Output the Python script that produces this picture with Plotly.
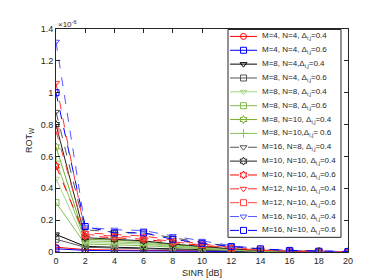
import plotly.graph_objects as go

sinr = [0, 2, 4, 6, 8, 10, 12, 14, 16, 18, 20]
x_ticks = [0, 2, 4, 6, 8, 10, 12, 14, 16, 18, 20]
y_ticks = [0, 0.2, 0.4, 0.6, 0.8, 1.0, 1.2, 1.4]
y_tick_labels = ["0", "0.2", "0.4", "0.6", "0.8", "1", "1.2", "1.4"]

names = [
    "M=4, N=4, Δ<sub>i,j</sub>=0.4",
    "M=4, N=4, Δ<sub>i,j</sub>=0.6",
    "M=8, N=4,Δ<sub>i,j</sub>=0.4",
    "M=8, N=4, Δ<sub>i,j</sub>=0.6",
    "M=8, N=8, Δ<sub>i,j</sub>=0.4",
    "M=8, N=8, Δ<sub>i,j</sub>=0.6",
    "M=8, N=10, Δ<sub>i,j</sub>=0.4",
    "M=8, N=10,Δ<sub>i,j</sub>= 0.6",
    "M=16, N=8, Δ<sub>i,j</sub>=0.4",
    "M=10, N=10, Δ<sub>i,j</sub>=0.4",
    "M=10, N=10, Δ<sub>i,j</sub>=0.6",
    "M=12, N=10, Δ<sub>i,j</sub>=0.4",
    "M=12, N=10, Δ<sub>i,j</sub>=0.6",
    "M=16, N=10, Δ<sub>i,j</sub>=0.4",
    "M=16, N=10, Δ<sub>i,j</sub>=0.6",
]

# ROT_W values (x 1e-6)
rot_m4n4_04 = [0.03, 0.015, 0.012, 0.010, 0.008, 0.005, 0.003, 0.002, 0.001, 0.0005, 0.0003]
rot_m4n4_06 = [0.02, 0.010, 0.008, 0.006, 0.005, 0.003, 0.002, 0.001, 0.0007, 0.0004, 0.0002]
rot_m8n4_04 = [0.11, 0.035, 0.030, 0.025, 0.020, 0.012, 0.007, 0.004, 0.002, 0.001, 0.0005]
rot_m8n4_06 = [0.08, 0.030, 0.025, 0.020, 0.015, 0.010, 0.006, 0.003, 0.002, 0.001, 0.0005]
rot_m8n8_04 = [0.46, 0.060, 0.055, 0.050, 0.035, 0.022, 0.012, 0.006, 0.003, 0.001, 0.001]
rot_m8n8_06 = [0.31, 0.050, 0.045, 0.040, 0.030, 0.018, 0.010, 0.005, 0.002, 0.001, 0.0005]
rot_m8n10_04 = [0.66, 0.080, 0.075, 0.065, 0.045, 0.030, 0.018, 0.008, 0.004, 0.002, 0.001]
rot_m8n10_06 = [0.57, 0.070, 0.065, 0.055, 0.040, 0.025, 0.015, 0.007, 0.003, 0.002, 0.001]
rot_m16n8_04 = [0.88, 0.140, 0.125, 0.120, 0.090, 0.060, 0.035, 0.018, 0.009, 0.004, 0.002]
rot_m10n10_04 = [0.80, 0.090, 0.080, 0.070, 0.050, 0.035, 0.020, 0.010, 0.005, 0.002, 0.001]
rot_m10n10_06 = [0.54, 0.100, 0.090, 0.080, 0.060, 0.040, 0.022, 0.010, 0.005, 0.003, 0.001]
rot_m12n10_04 = [1.06, 0.120, 0.110, 0.100, 0.075, 0.050, 0.030, 0.015, 0.008, 0.004, 0.002]
rot_m12n10_06 = [0.76, 0.110, 0.100, 0.090, 0.065, 0.045, 0.025, 0.012, 0.006, 0.003, 0.002]
rot_m16n10_04 = [1.32, 0.155, 0.140, 0.135, 0.100, 0.070, 0.040, 0.020, 0.010, 0.005, 0.003]
rot_m16n10_06 = [1.00, 0.160, 0.120, 0.120, 0.080, 0.055, 0.035, 0.020, 0.010, 0.005, 0.003]

series = [rot_m4n4_04, rot_m4n4_06, rot_m8n4_04, rot_m8n4_06, rot_m8n8_04,
          rot_m8n8_06, rot_m8n10_04, rot_m8n10_06, rot_m16n8_04, rot_m10n10_04,
          rot_m10n10_06, rot_m12n10_04, rot_m12n10_06, rot_m16n10_04, rot_m16n10_06]

styles = [
    ("#ff0000", "solid", "circle-open"),
    ("#0000ff", "solid", "square-open"),
    ("#000000", "solid", "triangle-down-open"),
    ("#555555", "solid", "square-open"),
    ("#a8d48a", "solid", "triangle-down-open"),
    ("#86bb4f", "solid", "square-open"),
    ("#77ac30", "solid", "hexagram-open"),
    ("#8cc060", "solid", "cross-thin-open"),
    ("#555555", "dash", "triangle-down-open"),
    ("#222222", "solid", "hexagram-open"),
    ("#ff0000", "dash", "hexagram-open"),
    ("#ff3333", "dash", "triangle-down-open"),
    ("#ff4444", "dash", "square-open"),
    ("#5555ff", "dash", "triangle-down-open"),
    ("#0000ff", "dash", "square-open"),
]

TXT = "#262626"
fig = go.Figure()
for name, ys, (col, dash, sym) in zip(names, series, styles):
    fig.add_trace(go.Scatter(
        x=sinr, y=ys, name=name, mode="lines+markers", showlegend=False,
        line=dict(color=col, width=1, dash=dash),
        marker=dict(symbol=sym, size=6, color=col, line=dict(color=col, width=1)),
    ))

# ---- hand-made legend on a helper subplot (pixel-like units) ----
# plot area: x 48..340 px, y 21..249 px
L_W, L_H = 115, 214
fig.add_trace(go.Scatter(
    x=[1, L_W - 1, L_W - 1, 1, 1], y=[0.5, 0.5, L_H - 1, L_H - 1, 0.5],
    mode="lines", fill="toself", fillcolor="white",
    line=dict(color=TXT, width=1), showlegend=False, hoverinfo="skip",
    xaxis="x2", yaxis="y2"))
n = len(names)
step = (L_H - 1.5) / n
for i, (name, (col, dash, sym)) in enumerate(zip(names, styles)):
    yc = 0.5 + (i + 0.5) * step
    fig.add_trace(go.Scatter(
        x=[3, 30], y=[yc, yc], mode="lines", showlegend=False, hoverinfo="skip",
        line=dict(color=col, width=1, dash=dash), xaxis="x2", yaxis="y2"))
    fig.add_trace(go.Scatter(
        x=[16.5], y=[yc], mode="markers", showlegend=False, hoverinfo="skip",
        marker=dict(symbol=sym, size=6, color=col, line=dict(color=col, width=1)),
        xaxis="x2", yaxis="y2"))
    fig.add_annotation(text=name, x=33, y=yc, xref="x2", yref="y2",
                       xanchor="left", yanchor="middle", showarrow=False,
                       font=dict(size=8, color=TXT))

axis_common = dict(
    showline=True, linecolor=TXT, linewidth=1, mirror="ticks",
    ticks="inside", ticklen=4, tickcolor=TXT, showgrid=False, zeroline=False,
    tickfont=dict(size=9, color=TXT),
)

fig.update_layout(
    width=374, height=280,
    margin=dict(l=48, r=34, t=21, b=31),
    paper_bgcolor="white", plot_bgcolor="white",
    font=dict(family="Liberation Sans, Arial, sans-serif", color=TXT),
    xaxis=dict(range=[0, 20], tickvals=x_ticks, domain=[0, 1],
               title=dict(text="SINR [dB]", font=dict(size=9), standoff=4), **axis_common),
    yaxis=dict(range=[0, 1.4], tickvals=y_ticks, ticktext=y_tick_labels, domain=[0, 1],
               title=dict(text="ROT<sub>W</sub>", font=dict(size=9), standoff=6), **axis_common),
    xaxis2=dict(domain=[(219 - 48) / 292, (334 - 48) / 292], range=[0, L_W],
                visible=False, anchor="y2", fixedrange=True),
    yaxis2=dict(domain=[(249 - 235) / 228, 1], range=[L_H, 0],
                visible=False, anchor="x2", fixedrange=True),
    showlegend=False,
)

fig.add_annotation(text="×10<sup>-6</sup>", xref="paper", yref="paper",
                   x=0, y=1, xanchor="left", yanchor="bottom", showarrow=False,
                   font=dict(size=8, color=TXT), yshift=-2)

fig.write_html("out.html")
